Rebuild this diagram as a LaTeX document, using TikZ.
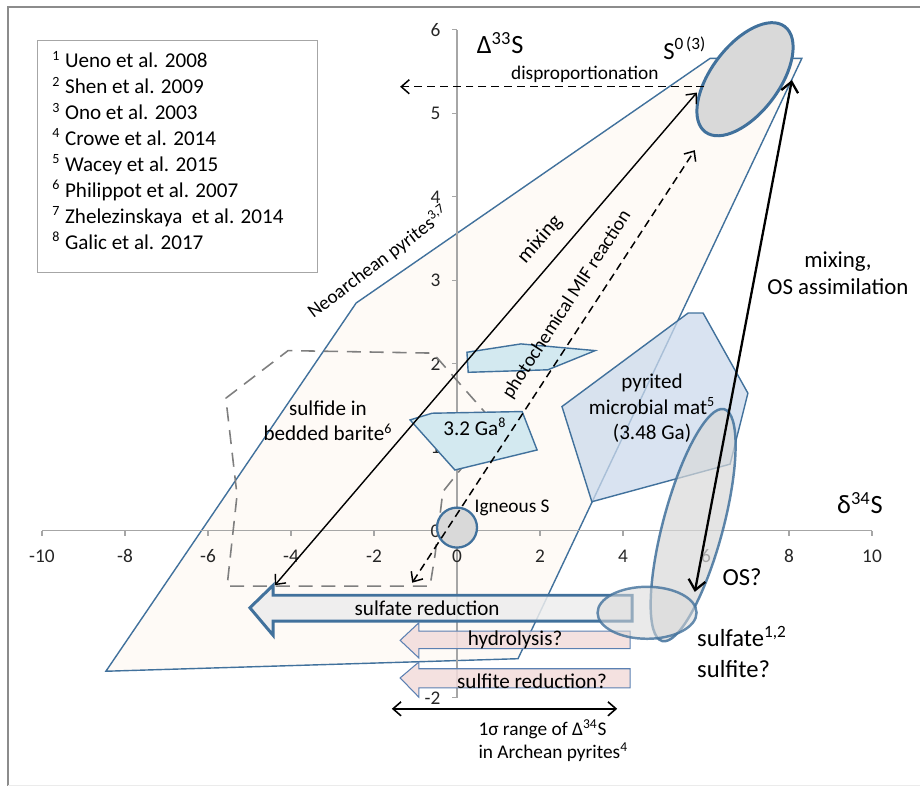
\documentclass[tikz,border=0pt]{standalone}
\usepackage{fontspec}
\setmainfont{Carlito}
\usetikzlibrary{arrows.meta,shapes.geometric}
\definecolor{shapeblue}{HTML}{41719C}
\definecolor{thinblue}{HTML}{5B80B2}
\definecolor{peachfill}{HTML}{FEFAF6}
\definecolor{aquafill}{HTML}{D3E9F0}
\definecolor{matfill}{HTML}{CCDAEC}
\definecolor{pinkfill}{HTML}{F2DCDB}
\definecolor{greyfill}{HTML}{D9D9D9}
\definecolor{lightfill}{HTML}{EDEDED}
\definecolor{axisgrey}{HTML}{A6A6A6}
\definecolor{framegrey}{HTML}{8C8C8C}
\definecolor{baritegrey}{HTML}{7F7F7F}
\definecolor{labelgrey}{HTML}{262626}

\begin{document}
\begin{tikzpicture}[x=0.83cm,y=1.67cm,
		axisline/.style={draw=axisgrey,line width=0.6pt},
		field/.style={draw=shapeblue,line width=0.8pt},
		blob/.style={ellipse,draw=shapeblue,fill=greyfill,inner sep=0pt},
		barb/.style={-{Straight Barb[length=1.6mm,width=2.8mm]}},
		twobarb/.style={{Straight Barb[length=1.6mm,width=2.8mm]}-{Straight Barb[length=1.6mm,width=2.8mm]}},
		dashline/.style={dash pattern=on 4.5pt off 2.8pt,line width=0.85pt},
		ticklabel/.style={text=labelgrey,font=\fontsize{11}{13}\selectfont,inner sep=0pt},
		smalltext/.style={font=\fontsize{11}{13}\selectfont,inner sep=0pt},
		midtext/.style={font=\fontsize{12}{14.6}\selectfont,inner sep=0pt,align=center},
		bigtext/.style={font=\fontsize{14}{17.6}\selectfont,inner sep=0pt,align=left},
		axistitle/.style={font=\fontsize{15}{18}\selectfont,inner sep=0pt}]
		\useasboundingbox (-11.012,-3.066) rectangle (11.157,6.359);
		\draw[framegrey,line width=1.1pt] (-10.82,-3.054) -- (-10.82,6.275) -- (11.157,6.275);
		\draw[black!8,line width=0.6pt] (-10.82,-3.054) -- (11.157,-3.054);
		\draw[draw=axisgrey,line width=0.6pt] (-10.10,5.87) rectangle (-3.35,3.10);
		\foreach \n/\who in {1/Ueno et al. 2008,2/Shen et al. 2009,3/Ono et al. 2003,4/Crowe et al. 2014,5/Wacey et al. 2015,6/Philippot et al. 2007,7/Zhelezinskaya\ \ et al. 2014,8/Galic et al. 2017}
			\node[midtext,anchor=base west] (ref\n) at (-9.76,{5.855-0.31*\n}) {\textsuperscript{\n} \who};
		\filldraw[field,fill=peachfill] (-8.46,-1.68) -- (-2.43,2.73) -- (6.10,5.66) -- (8.31,5.66) -- (1.47,-1.53) -- cycle;
		\draw[axisline] (-10,0) -- (10,0);
		\draw[axisline] (0,-2) -- (0,6);
		\foreach \x [count=\k] in {-10,-8,...,10} {
			\draw[axisline] (\x,0) -- (\x,-0.06);
			\node[ticklabel] (xt\k) at (\x,-0.30) {\x};
		}
		\foreach \y in {-2,...,6}
			\draw[axisline] (0,\y) -- (-0.12,\y);
		\foreach \y [count=\k] in {6,5,4,3,2,1,0,-2}
			\node[ticklabel,anchor=east] (yt\k) at (-0.39,\y) {\y};
		\draw[baritegrey,dash pattern=on 8pt off 5pt,line width=0.9pt] (-5.57,1.59) -- (-4.07,2.16) -- (-0.58,2.13) -- (0.94,1.27) -- (-0.34,0.47) -- (-0.53,-0.29) -- (-0.65,-0.66) -- (-5.54,-0.66) -- (-5.30,0.43) -- cycle;
		\filldraw[field,fill=aquafill] (0.24,2.14) -- (1.54,2.24) -- (3.33,2.16) -- (2.19,1.93) -- (0.27,1.90) -- cycle;
		\filldraw[field,fill=aquafill] (-1.13,1.33) -- (-0.60,1.41) -- (1.57,1.43) -- (1.93,0.97) -- (-0.05,0.73) -- cycle;
		\filldraw[field,fill=matfill,fill opacity=0.75] (2.53,1.49) -- (5.57,2.61) -- (5.93,2.61) -- (7.01,1.65) -- (6.58,0.80) -- (3.25,0.35) -- cycle;
		\filldraw[draw=shapeblue,line width=1.7pt,fill=lightfill,fill opacity=0.85] (-4.99,-0.92) -- (-4.43,-0.65) -- (-4.43,-0.77) -- (4.22,-0.77) -- (4.22,-1.08) -- (-4.43,-1.08) -- (-4.43,-1.25) -- cycle;
		\filldraw[draw=thinblue,line width=0.6pt,fill=pinkfill,fill opacity=0.85] (-1.37,-1.31) -- (-0.92,-1.10) -- (-0.92,-1.20) -- (4.17,-1.20) -- (4.17,-1.41) -- (-0.92,-1.41) -- (-0.92,-1.52) -- cycle;
		\filldraw[draw=thinblue,line width=0.6pt,fill=pinkfill,fill opacity=0.85] (-1.37,-1.76) -- (-0.92,-1.57) -- (-0.92,-1.65) -- (4.17,-1.65) -- (4.17,-1.88) -- (-0.92,-1.88) -- (-0.92,-1.99) -- cycle;
		\node[blob,line width=1.4pt,fill opacity=0.7,draw opacity=0.85,minimum width=4.8cm,minimum height=1.2cm,rotate=75] (os) at (5.69,0.07) {};
		\node[blob,line width=1.4pt,fill opacity=0.55,draw opacity=0.8,minimum width=1.98cm,minimum height=1.04cm] (sulfate) at (4.58,-0.98) {};
		\node[blob,line width=1.3pt,circle,minimum size=0.8cm] (igneous) at (0,0.04) {};
		\node[blob,line width=1.7pt,minimum width=2.64cm,minimum height=1.36cm,rotate=53] (szero) at (6.94,5.41) {};
		\coordinate (mixlow) at (-4.39,-0.65);
		\coordinate (mixtop) at (5.78,5.25);
		\coordinate (miflow) at (-1.08,-0.62);
		\coordinate (miftop) at (5.73,4.56);
		\coordinate (dispstart) at (5.96,5.32);
		\coordinate (dispend) at (-1.37,5.32);
		\coordinate (assimtop) at (8.07,5.40);
		\coordinate (assimlow) at (5.73,-0.73);
		\coordinate (rangeleft) at (-1.57,-2.13);
		\coordinate (rangeright) at (3.86,-2.13);
		\draw[twobarb,line width=0.8pt] (mixlow) -- (mixtop);
		\draw[twobarb,dashline] (miflow) -- (miftop);
		\draw[barb,dashline] (dispstart) -- (dispend);
		\draw[{Straight Barb[length=2mm,width=3.4mm]}-{Straight Barb[length=2mm,width=3.4mm]},line width=1.3pt] (assimlow) -- (assimtop);
		\draw[twobarb,line width=0.9pt] (rangeleft) -- (rangeright);
		\node[axistitle] (dthree) at (1.04,5.84) {Δ\textsuperscript{33}S};
		\node[axistitle] (dfour) at (9.71,0.335) {δ\textsuperscript{34}S};
		\node[bigtext] (szerolabel) at (5.49,5.78) {S\textsuperscript{0\,(3)}};
		\node[smalltext] (displabel) at (3.08,5.47) {disproportionation};
		\node[midtext,rotate=49] (mixlabel) at (2.0,3.49) {mixing};
		\node[smalltext,rotate=57] (miflabel) at (2.65,2.71) {photochemical MIF reaction};
		\node[smalltext,rotate=37] (neolabel) at (-1.90,3.22) {Neoarchean pyrites\textsuperscript{3,7}};
		\node[font=\fontsize{13}{15.5}\selectfont,inner sep=0pt,align=center] (assimlabel) at (9.18,3.09) {mixing,\\OS assimilation};
		\node[midtext] (baritelabel) at (-3.11,1.32) {sulfide in\\bedded barite\textsuperscript{6}};
		\node[midtext] (galiclabel) at (0.43,1.25) {3.2 Ga\textsuperscript{8}};
		\node[smalltext] (igneouslabel) at (1.33,0.275) {Igneous S};
		\node[midtext] (matlabel) at (4.70,1.47) {pyrited\\microbial mat\textsuperscript{5}\\(3.48 Ga)};
		\node[bigtext] (oslabel) at (6.87,-0.55) {OS?};
		\node[bigtext,anchor=west] (sulfatelabel) at (5.78,-1.45) {sulfate\textsuperscript{1,2}\\sulfite?};
		\node[midtext] (sredlabel) at (-0.72,-0.92) {sulfate reduction};
		\node[midtext] (hydrolabel) at (1.40,-1.31) {hydrolysis?};
		\node[midtext] (sitelabel) at (1.81,-1.80) {sulfite reduction?};
		\node[smalltext,align=left,anchor=west] (rangelabel) at (0.51,-2.51) {1σ range of Δ\textsuperscript{34}S\\in Archean pyrites\textsuperscript{4}};
	\end{tikzpicture}
\end{document}
